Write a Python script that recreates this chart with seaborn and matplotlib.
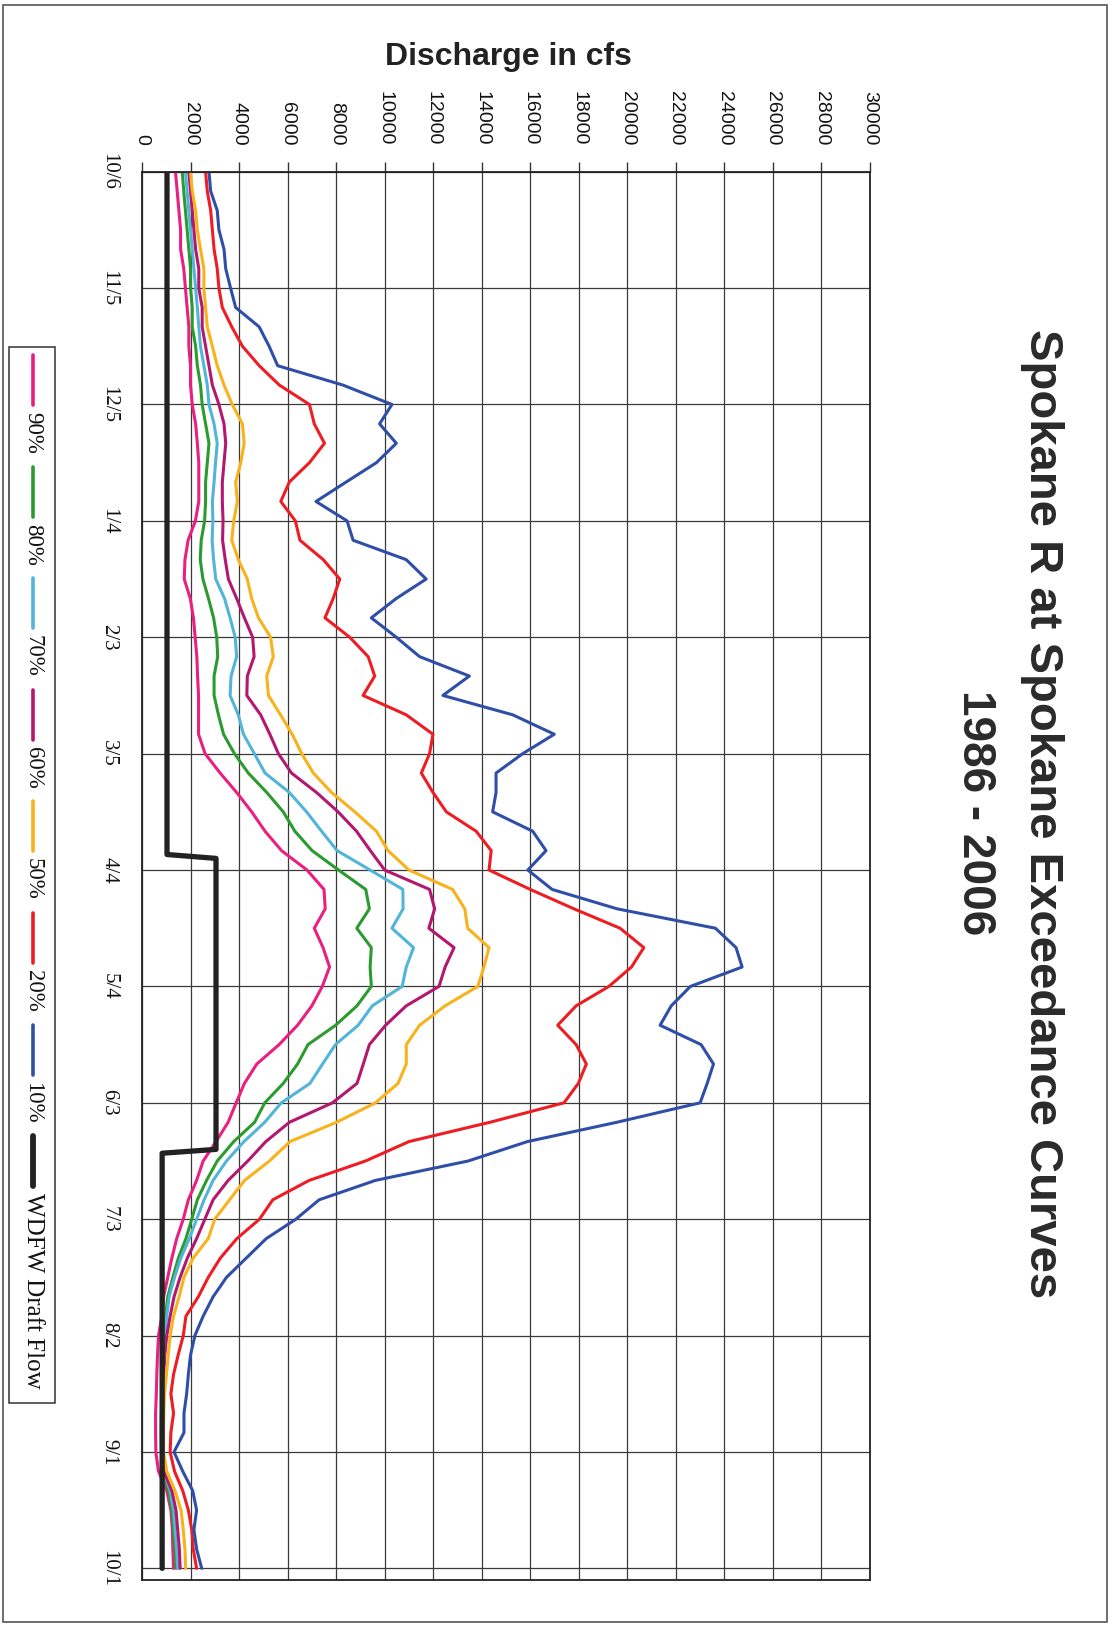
import numpy as np
import pandas as pd
import matplotlib.pyplot as plt
import seaborn as sns
from matplotlib.lines import Line2D
from matplotlib.patches import Rectangle

# day number counted from 10/6, one reading every 5 days
days = list(range(0, 361, 5))

p90 = [1380, 1450, 1520, 1590, 1590, 1720, 1790, 1860, 1930, 1930, 2000, 2000, 2070, 2210, 2280, 2340, 2340, 2340, 2200,
       1900, 1770, 1740, 1990, 2120, 2190, 2260, 2290, 2330, 2330, 2330, 2600, 3220, 3900, 4520, 5070, 5750, 6800,
       7500, 7550, 7100, 7460, 7730, 7430, 7000, 6410, 5650, 4730, 4220, 3880, 3550, 3050, 2520, 2250, 1910, 1700,
       1430, 1230, 1060, 890, 820, 680, 640, 610, 590, 560, 560, 570, 680, 1020, 1190, 1250, 1270, 1300]
p80 = [1660, 1720, 1790, 1860, 1930, 2000, 2000, 2070, 2070, 2210, 2280, 2410, 2480, 2620, 2760, 2690, 2620, 2620, 2580,
       2440, 2400, 2510, 2740, 2950, 3080, 3120, 2970, 2970, 3150, 3360, 3810, 4380, 5140, 5820, 6300, 7010, 8100,
       9220, 9370, 8850, 9450, 9400, 9450, 8860, 7980, 6840, 6410, 5820, 5060, 4640, 3780, 3100, 2660, 2280, 2050,
       1810, 1500, 1270, 1060, 970, 910, 870, 850, 820, 800, 790, 800, 890, 1090, 1230, 1300, 1360, 1400]
p70 = [1790, 1860, 1930, 2000, 2070, 2140, 2210, 2280, 2340, 2410, 2550, 2690, 2760, 2970, 3100, 3030, 2970, 2900, 2920,
       2890, 2950, 3040, 3400, 3630, 3840, 3900, 3670, 3630, 3970, 4180, 4630, 5070, 6070, 6780, 7400, 8040, 9400,
       10750, 10760, 10300, 11190, 10890, 10720, 9490, 8910, 7970, 7440, 6920, 5740, 5060, 4200, 3480, 2930, 2560, 2250,
       1950, 1600, 1340, 1120, 1020, 950, 910, 870, 850, 830, 820, 830, 910, 1160, 1300, 1360, 1430, 1470]
p60 = [1930, 2000, 2070, 2140, 2210, 2340, 2340, 2480, 2480, 2620, 2760, 2900, 3170, 3380, 3450, 3380, 3310, 3310, 3340,
       3320, 3430, 3560, 3900, 4220, 4560, 4620, 4340, 4320, 4890, 5270, 5620, 6160, 7190, 8080, 8840, 9410, 10000,
       11850, 12060, 11820, 12860, 12490, 12240, 10890, 10040, 9370, 9120, 8860, 7850, 6080, 5100, 4360, 3550, 2930, 2590,
       2250, 1870, 1570, 1320, 1160, 1020, 940, 900, 880, 870, 860, 870, 900, 1230, 1400, 1470, 1540, 1570]
p50 = [2000, 2070, 2210, 2280, 2410, 2550, 2550, 2620, 2690, 2900, 3100, 3380, 3720, 4140, 4210, 4070, 3860, 3930, 3780,
       3700, 3970, 4340, 4520, 4800, 5300, 5410, 5140, 5210, 5710, 6190, 6580, 7060, 7810, 8770, 9660, 10140, 11000,
       12800, 13300, 13420, 14300, 14090, 13840, 12490, 11440, 10890, 10890, 10550, 9620, 8020, 6100, 5250, 4230, 3610, 3000,
       2730, 2110, 1730, 1530, 1300, 1160, 1080, 1010, 930, 900, 890, 890, 1020, 1360, 1610, 1700, 1770, 1800]
p20 = [2620, 2690, 2830, 2900, 2970, 3100, 3170, 3310, 3700, 4140, 4830, 5660, 6900, 7100, 7520, 6900, 6070, 5720, 6320,
       6510, 7470, 8150, 7880, 7540, 8560, 9320, 9590, 9110, 10890, 11990, 11850, 11510, 11990, 12540, 13770, 14390, 14300,
       16000, 17800, 19700, 20680, 20170, 19240, 17890, 17130, 17890, 18310, 17980, 17390, 14350, 11000, 9210, 6890, 5390, 4840,
       3910, 3230, 2730, 2320, 1810, 1700, 1490, 1300, 1190, 1300, 1190, 1160, 1340, 1680, 1910, 2050, 2110, 2250]
p10 = [2760, 2830, 3100, 3170, 3380, 3450, 3650, 3860, 4830, 5240, 5590, 8280, 10300, 9790, 10480, 9660, 8410, 7170, 8450,
       8700, 10890, 11710, 10480, 9450, 10480, 11440, 13490, 12400, 15280, 16990, 15690, 14590, 14590, 14450, 16100, 16650, 15900,
       16900, 19580, 23630, 24480, 24730, 22600, 21810, 21350, 23040, 23550, 23290, 23000, 19580, 15880, 13440, 9620, 7300, 6340,
       5120, 4300, 3480, 2930, 2520, 2180, 2000, 1910, 1840, 1730, 1730, 1320, 1680, 2090, 2250, 2140, 2250, 2460]

wdfw_days = [0, 176, 177, 252, 253, 360]
wdfw_cfs = [1030, 1030, 3050, 3050, 830, 830]

curve_names = ['90%', '80%', '70%', '60%', '50%', '20%', '10%']
curve_colors = ['#ea1f80', '#2b9b2f', '#52b4d8', '#b3186e', '#f7b21c', '#ee1d23', '#2f4ea8']
date_ticks = [0, 30, 60, 90, 120, 150, 180, 210, 240, 270, 300, 330, 360]
date_labels = ['10/6', '11/5', '12/5', '1/4', '2/3', '3/5', '4/4', '5/4', '6/3', '7/3', '8/2', '9/1', '10/1']
cfs_ticks = list(range(0, 30001, 2000))

W, H = 1112, 1627

sns.set_theme(style='white')
plt.rcParams['font.family'] = ['Liberation Sans', 'DejaVu Sans']

df = pd.DataFrame({
    'day': days * 7,
    'cfs': p90 + p80 + p70 + p60 + p50 + p20 + p10,
    'curve': [n for n in curve_names for _ in days],
})

fig = plt.figure(figsize=(W / 100, H / 100), dpi=100)
ax = fig.add_axes([142 / W, 1 - 1580 / H, 728 / W, (1580 - 171.7) / H])

sns.lineplot(data=df, x='cfs', y='day', hue='curve', hue_order=curve_names,
             palette=curve_colors, sort=False, estimator=None, legend=False,
             linewidth=2.2, ax=ax)
sns.lineplot(x=wdfw_cfs, y=wdfw_days, sort=False, estimator=None, color='#222222',
             linewidth=3.8, ax=ax)

ax.set_xlim(0, 30000)
ax.set_ylim(363, 0)
ax.set_xticks(cfs_ticks)
ax.set_xticklabels([str(t) for t in cfs_ticks], rotation=-90, fontsize=14, color='#111111')
ax.set_yticks(date_ticks)
ax.set_yticklabels(date_labels, rotation=-90, fontsize=15, color='#111111',
                   family=['Liberation Serif', 'DejaVu Serif'])
for lab in ax.get_yticklabels():
    lab.set_va('center')
    lab.set_ha('right')
ax.xaxis.tick_top()
ax.tick_params(axis='x', direction='out', length=7, width=1, color='#333333', pad=12)
ax.tick_params(axis='y', direction='inout', length=12, width=1, color='#333333', pad=11)
ax.set_xlabel('')
ax.set_ylabel('')
ax.grid(True, color='#3a3a3a', linewidth=0.9)
for s in ax.spines.values():
    s.set_color('#222222')
    s.set_linewidth(1.3)

fig.text(508 / W, 1 - 57 / H, 'Discharge in cfs', ha='center', va='center',
         fontsize=23, fontweight='bold', color='#222222')
fig.text(1042 / W, 1 - 814 / H, 'Spokane R at Spokane Exceedance Curves', rotation=-90,
         ha='center', va='center', fontsize=34, fontweight='bold', color='#2a2a2a')
fig.text(975 / W, 1 - 813 / H, '1986 - 2006', rotation=-90,
         ha='center', va='center', fontsize=33, fontweight='bold', color='#2a2a2a')

# legend drawn by hand, it is rotated with the rest of the page
fig.add_artist(Rectangle((9 / W, 1 - 1403 / H), 46 / W, (1403 - 347) / H,
                         transform=fig.transFigure, fill=False, edgecolor='#333333', linewidth=1.1))
leg_names = curve_names + ['WDFW Draft Flow']
leg_colors = curve_colors + ['#222222']
for i, (name, col) in enumerate(zip(leg_names, leg_colors)):
    ts = 412 + i * 111.6
    lw = 4.2 if i == 7 else 2.6
    fig.add_artist(Line2D([33 / W, 33 / W], [1 - (ts - 57) / H, 1 - (ts - 7) / H],
                          transform=fig.transFigure, color=col, linewidth=lw))
    fig.text(33 / W, 1 - ts / H, name, rotation=-90, ha='center', va='top',
             fontsize=18 if i == 7 else 16.5,
             color='#111111', family=['Liberation Serif', 'DejaVu Serif'])

# page border of the scan
fig.add_artist(Rectangle((3 / W, 1 - 1622 / H), 1104 / W, 1617 / H,
                         transform=fig.transFigure, fill=False, edgecolor='#555555', linewidth=1.2))

fig.savefig('out.png', dpi=100)
